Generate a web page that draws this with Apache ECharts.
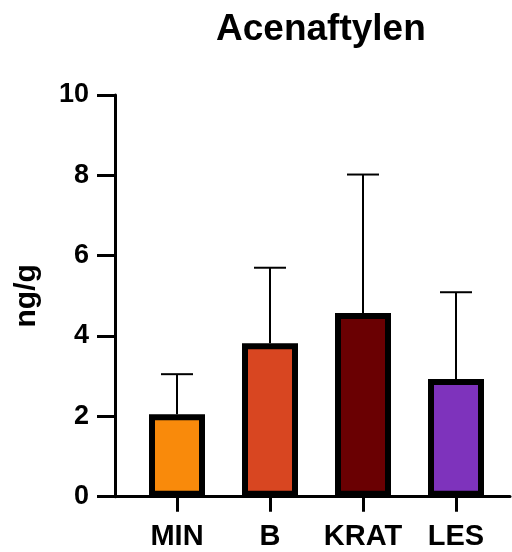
<!DOCTYPE html>
<html>
<head>
<meta charset="utf-8">
<script src="https://cdn.jsdelivr.net/npm/echarts@6/dist/echarts.min.js"></script>
<style>
  html, body { margin: 0; padding: 0; background: #fff; }
  #chart { width: 512px; height: 552px; }
</style>
</head>
<body>
<div id="chart"></div>
<script>
// 数据
const categories = ['MIN', 'B', 'KRAT', 'LES']
const means = [2.05, 3.82, 4.57, 2.93]
const errTops = [3.05, 5.70, 8.02, 5.09]
const barColors = ['#F98A0B', '#D84621', '#6A0002', '#7E33BC']
const yTicks = [0, 2, 4, 6, 8, 10]

const FONT = '"Liberation Sans", Arial, sans-serif'

const chart = echarts.init(document.getElementById('chart'))

const option = {
  animation: false,
  title: {
    text: 'Acenaftylen',
    left: 211,
    top: 6,
    textStyle: { fontFamily: FONT, fontWeight: 'bold', fontSize: 37, color: '#000' },
  },
  grid: [
    // 柱子
    { left: 130.5, width: 372, top: 95, bottom: 55.3, outerBoundsMode: 'none' },
    // 只画x轴线
    { left: 115, right: 2, top: 95, bottom: 55.3, outerBoundsMode: 'none' },
  ],
  xAxis: [
    {
      type: 'category',
      gridIndex: 0,
      data: categories,
      axisLine: { show: false },
      axisTick: { show: true, alignWithLabel: true, length: 15, lineStyle: { width: 3, color: '#000' } },
      axisLabel: { interval: 0, margin: 26, fontFamily: FONT, fontWeight: 'bold', fontSize: 29, color: '#000' },
    },
    {
      type: 'value',
      gridIndex: 1,
      min: 0,
      max: 1,
      axisLine: { show: true, lineStyle: { width: 3, color: '#000' } },
      axisTick: { show: false },
      axisLabel: { show: false },
      splitLine: { show: false },
    },
  ],
  yAxis: [
    {
      type: 'value',
      gridIndex: 0,
      min: 0,
      max: 10,
      interval: 2,
      offset: 15.5,
      name: 'ng/g',
      nameLocation: 'middle',
      nameRotate: 90,
      nameGap: 73,
      nameTextStyle: { fontFamily: FONT, fontWeight: 'bold', fontSize: 30, color: '#000' },
      axisLine: { show: true, lineStyle: { width: 3, color: '#000' } },
      axisTick: { show: true, length: 18, lineStyle: { width: 3, color: '#000' } },
      axisLabel: {
        margin: 26,
        fontFamily: FONT,
        fontWeight: 'bold',
        fontSize: 27,
        color: '#000',
        formatter: (v) => (yTicks.indexOf(v) >= 0 ? String(v) : ''),
      },
      splitLine: { show: false },
    },
    { type: 'value', gridIndex: 1, min: 0, max: 1, show: false },
  ],
  series: [
    {
      // 误差线
      type: 'custom',
      xAxisIndex: 0,
      yAxisIndex: 0,
      z: 1,
      data: categories.map((c, i) => [i, means[i], errTops[i]]),
      renderItem: (params, api) => {
        const base = api.coord([api.value(0), api.value(1)])
        const top = api.coord([api.value(0), api.value(2)])
        const half = 16
        return {
          type: 'group',
          children: [
            { type: 'line', shape: { x1: base[0], y1: base[1], x2: top[0], y2: top[1] }, style: { stroke: '#000', lineWidth: 2 } },
            { type: 'line', shape: { x1: top[0] - half, y1: top[1], x2: top[0] + half, y2: top[1] }, style: { stroke: '#000', lineWidth: 2 } },
          ],
        }
      },
    },
    {
      type: 'bar',
      xAxisIndex: 0,
      yAxisIndex: 0,
      z: 2,
      barWidth: 56,
      data: means.map((v, i) => ({
        value: v,
        itemStyle: { color: barColors[i], borderColor: '#000', borderWidth: 6 },
      })),
    },
  ],
}
chart.setOption(option)
</script>
</body>
</html>
